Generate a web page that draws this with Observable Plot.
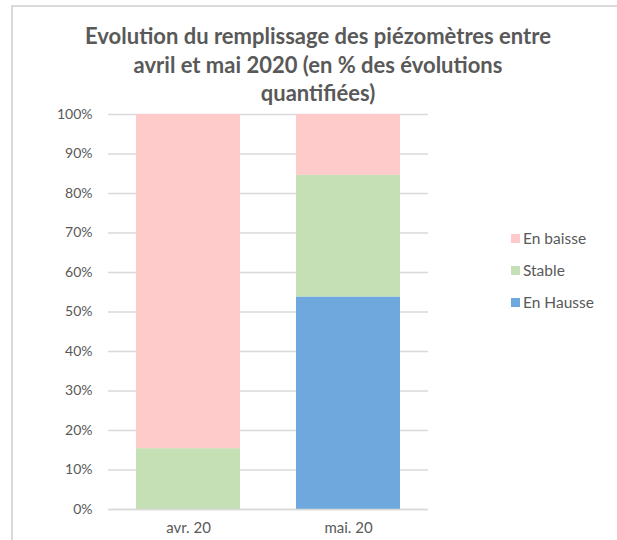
<!DOCTYPE html>
<html><head><meta charset="utf-8">
<script src="https://cdn.jsdelivr.net/npm/d3@7"></script>
<script src="https://cdn.jsdelivr.net/npm/@observablehq/plot@0.6"></script>
<style>
html,body{margin:0;padding:0;background:#fff;width:617px;height:540px;overflow:hidden;font-family:Lato,"Open Sans",sans-serif;}
#frame{position:absolute;left:11px;top:5px;width:620px;height:560px;border-top:2px solid #d9d9d9;border-left:2px solid #d9d9d9;}
#title{position:absolute;left:0;top:22px;width:636px;text-align:center;font-weight:bold;font-size:22px;line-height:28.5px;color:#595959;}
#chart{position:absolute;left:0;top:100px;}
#legend{position:absolute;left:511px;top:222px;font-size:15.5px;color:#595959;}
#legend div{display:flex;align-items:center;height:32px;}
#legend span.sw{display:inline-block;width:9px;height:9px;margin-right:3px;}
</style></head>
<body>
<div id="frame"></div>
<div id="title"></div>
<div id="chart"></div>
<div id="legend"></div>
<script>
const titleLines = ["Evolution du remplissage des piézomètres entre", "avril et mai 2020 (en % des évolutions", "quantifiées)"];
const months = ["avr. 20", "mai. 20"];
const series = ["En Hausse", "Stable", "En baisse"];
const colors = ["#6fa8dc", "#c5e0b4", "#ffcaca"];
const enHausse = [0, 53.8];
const stable = [15.4, 30.8];
const enBaisse = [84.6, 15.4];
const yTicks = [0, 10, 20, 30, 40, 50, 60, 70, 80, 90, 100];

document.getElementById("title").innerHTML = titleLines.join("<br>");

const vals = [enHausse, stable, enBaisse];
const data = [];
series.forEach((s, i) => months.forEach((m, j) => data.push({month: m, series: s, value: vals[i][j]})));

const chart = Plot.plot({
  width: 617, height: 440,
  marginLeft: 108, marginRight: 189, marginTop: 14, marginBottom: 31,
  style: {fontFamily: "Lato, 'Open Sans', sans-serif", fontSize: "14px", color: "#595959", background: "transparent"},
  x: {domain: months, paddingInner: 0.35, paddingOuter: 0.175, label: null, tickSize: 0, tickPadding: 13},
  y: {domain: [0, 100], ticks: yTicks, tickFormat: d => d + "%", label: null, tickSize: 0, tickPadding: 16},
  color: {domain: series, range: colors},
  marks: [
    Plot.gridY(yTicks, {stroke: "#d9d9d9", strokeOpacity: 1, strokeWidth: 1.5}),
    Plot.barY(data, Plot.stackY({order: series}, {x: "month", y: "value", fill: "series"})),
    Plot.ruleY([0], {stroke: "#d9d9d9", strokeWidth: 1.5})
  ]
});
chart.querySelectorAll("[aria-label='x-axis tick label'] text").forEach(t => t.style.fontSize = "15px");
document.getElementById("chart").appendChild(chart);

const legend = document.getElementById("legend");
[2, 1, 0].forEach(i => {
  const d = document.createElement("div");
  d.innerHTML = `<span class="sw" style="background:${colors[i]}"></span>${series[i]}`;
  legend.appendChild(d);
});
</script>
</body></html>
